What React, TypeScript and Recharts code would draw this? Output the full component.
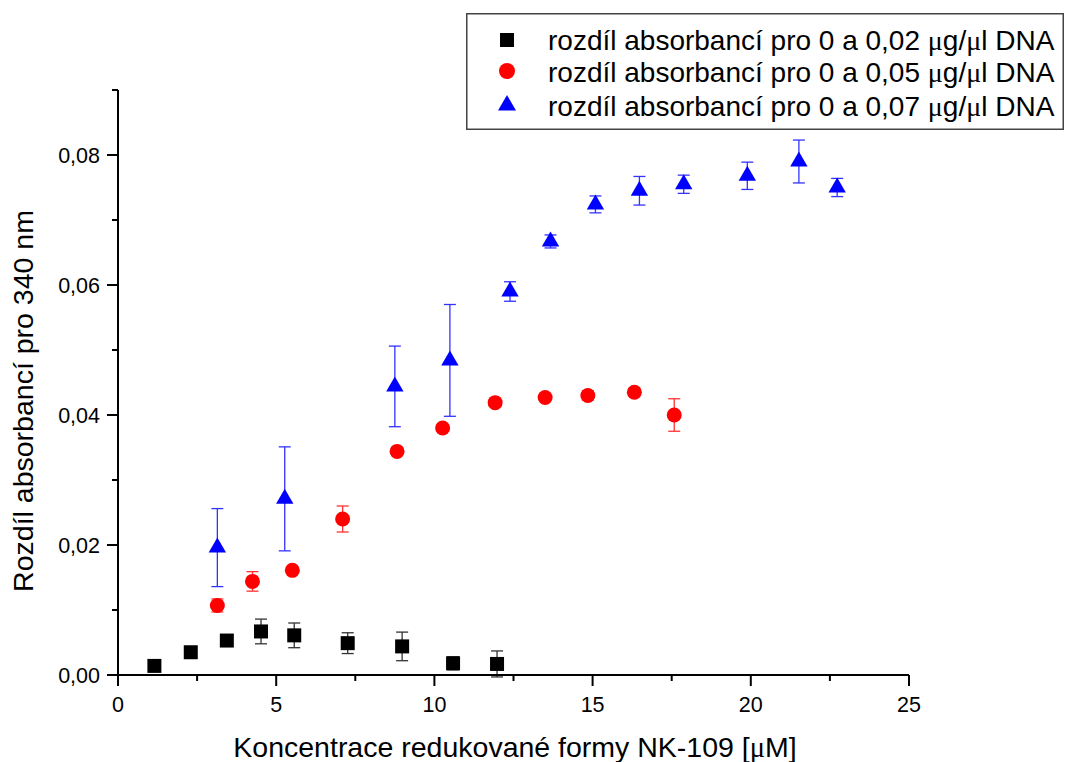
import React from 'react';
import { ScatterChart, Scatter, XAxis, YAxis, ErrorBar, Legend } from 'recharts';

const FONT = '"Liberation Sans", Arial, Helvetica, sans-serif';
const SERIF = '"Liberation Serif", "DejaVu Serif", serif';

// Series: difference in absorbance for 0 and 0.02 ug/ul DNA
const xBlack = [1.15, 2.3, 3.44, 4.52, 5.57, 7.26, 8.98, 10.59, 11.98];
const yBlack = [0.0014, 0.0035, 0.0053, 0.0067, 0.0061, 0.0049, 0.0044, 0.0018, 0.0017];
const eBlack = [0.0002, 0.0002, 0.0003, 0.0019, 0.0019, 0.0016, 0.0022, 0.001, 0.002];

// 0.05 ug/ul DNA
const xRed = [3.14, 4.25, 5.51, 7.1, 8.82, 10.26, 11.92, 13.5, 14.85, 16.32, 17.58];
const yRed = [0.0107, 0.0144, 0.0161, 0.024, 0.0344, 0.038, 0.0419, 0.0427, 0.043, 0.0435, 0.04];
const eRed = [0.001, 0.0015, 0.0004, 0.002, 0.0005, 0.0005, 0.0005, 0.0005, 0.0007, 0.0006, 0.0025];

// 0.07 ug/ul DNA
const xBlue = [3.14, 5.27, 8.75, 10.49, 12.39, 13.67, 15.09, 16.48, 17.88, 19.89, 21.52, 22.73];
const yBlue = [0.0196, 0.0271, 0.0444, 0.0484, 0.059, 0.0667, 0.0724, 0.0745, 0.0755, 0.0768, 0.079, 0.075];
const eBlue = [0.006, 0.008, 0.0062, 0.0086, 0.0015, 0.001, 0.0013, 0.0022, 0.0014, 0.0021, 0.0033, 0.0014];

const xTicks = [0, 2.5, 5, 7.5, 10, 12.5, 15, 17.5, 20, 22.5, 25];
const yTicks = [0, 0.01, 0.02, 0.03, 0.04, 0.05, 0.06, 0.07, 0.08, 0.09];

const legendNames = ['0,02', '0,05', '0,07'];

const build = (xs: number[], ys: number[], es: number[]) =>
  xs.map((x, i) => ({ x, y: ys[i], err: es[i] }));

const blackData = build(xBlack, yBlack, eBlack);
const redData = build(xRed, yRed, eRed);
const blueData = build(xBlue, yBlue, eBlue);

const SquareShape = (p: any) => (
  <rect x={p.cx - 7} y={p.cy - 7} width={14} height={14} fill="#000" />
);
const CircleShape = (p: any) => <circle cx={p.cx} cy={p.cy} r={7.5} fill="#ff0000" />;
const TriShape = (p: any) => (
  <path
    d={`M${p.cx},${p.cy - 10} L${p.cx + 8.7},${p.cy + 5} L${p.cx - 8.7},${p.cy + 5} Z`}
    fill="#0000ff"
  />
);

const XTick = (props: any) => {
  const { x, y, payload } = props;
  const v = payload.value;
  const major = Math.abs(v % 5) < 1e-9;
  return (
    <g>
      <line x1={x} y1={y} x2={x} y2={y + (major ? 11 : 6)} stroke="#000" strokeWidth={2} />
      {major && (
        <text x={x} y={y + 37} textAnchor="middle" fontSize={21.5} fontFamily={FONT} fill="#000">
          {v}
        </text>
      )}
    </g>
  );
};

const YTick = (props: any) => {
  const { x, y, payload } = props;
  const v = payload.value;
  const major = Math.round(v * 100) % 2 === 0;
  return (
    <g>
      <line x1={x} y1={y} x2={x - (major ? 11 : 6)} y2={y} stroke="#000" strokeWidth={2} />
      {major && (
        <text x={x - 18} y={y + 7.5} textAnchor="end" fontSize={21.5} fontFamily={FONT} fill="#000">
          {v.toFixed(2).replace('.', ',')}
        </text>
      )}
    </g>
  );
};

const LegendBox = () => {
  const rows = [
    { m: <rect x={34} y={20} width={14} height={14} fill="#000" /> },
    { m: <circle cx={41} cy={58} r={8} fill="#ff0000" /> },
    { m: <path d="M41,82 L50,97.5 L32,97.5 Z" fill="#0000ff" /> },
  ];
  const baselines = [37, 69, 103];
  return (
    <svg width={598} height={117} style={{ display: 'block' }}>
      <rect x={0.75} y={0.75} width={596.5} height={115.5} fill="#fff" stroke="#444" strokeWidth={1.5} />
      {rows.map((r, i) => (
        <g key={i}>
          {r.m}
          <text x={82} y={baselines[i]} fontSize={28} fontFamily={FONT} fill="#000">
            {`rozdíl absorbancí pro 0 a ${legendNames[i]} `}
            <tspan fontFamily={SERIF}>μ</tspan>
            {'g/'}
            <tspan fontFamily={SERIF}>μ</tspan>
            {'l DNA'}
          </text>
        </g>
      ))}
    </svg>
  );
};

export default function App() {
  return (
    <div style={{ position: 'absolute', left: 0, top: 0, background: '#fff' }}>
      <ScatterChart
        width={1065}
        height={762}
        margin={{ top: 90, right: 156, bottom: 0, left: 0 }}
      >
        <XAxis
          type="number"
          dataKey="x"
          domain={[0, 25]}
          ticks={xTicks}
          interval={0}
          height={87}
          tickSize={0}
          tickMargin={0}
          tickLine={false}
          axisLine={{ stroke: '#000', strokeWidth: 2 }}
          tick={<XTick />}
          label={{
            content: () => (
              <text x={515} y={757} textAnchor="middle" fontSize={28.5} fontFamily={FONT} fill="#000">
                {'Koncentrace redukované formy NK-109 ['}
                <tspan fontFamily={SERIF}>μ</tspan>
                {'M]'}
              </text>
            ),
          }}
        />
        <YAxis
          type="number"
          dataKey="y"
          domain={[0, 0.09]}
          ticks={yTicks}
          interval={0}
          width={118}
          tickSize={0}
          tickMargin={0}
          tickLine={false}
          allowDataOverflow
          axisLine={{ stroke: '#000', strokeWidth: 2 }}
          tick={<YTick />}
          label={{
            content: () => (
              <text
                x={33}
                y={401}
                transform="rotate(-90, 33, 401)"
                textAnchor="middle"
                fontSize={28.5}
                fontFamily={FONT}
                fill="#000"
              >
                Rozdíl absorbancí pro 340 nm
              </text>
            ),
          }}
        />
        <Legend
          layout="horizontal"
          verticalAlign="middle"
          align="center"
          wrapperStyle={{ position: 'absolute', left: 466, top: 13, width: 598, height: 117 }}
          content={() => <LegendBox />}
        />
        <Scatter name="0,02" data={blackData} shape={SquareShape} isAnimationActive={false}>
          <ErrorBar dataKey="err" direction="y" width={6} stroke="#333" strokeWidth={1.3} isAnimationActive={false} />
        </Scatter>
        <Scatter name="0,05" data={redData} shape={CircleShape} isAnimationActive={false}>
          <ErrorBar dataKey="err" direction="y" width={6} stroke="#ff3333" strokeWidth={1.3} isAnimationActive={false} />
        </Scatter>
        <Scatter name="0,07" data={blueData} shape={TriShape} isAnimationActive={false}>
          <ErrorBar dataKey="err" direction="y" width={6} stroke="#3333ff" strokeWidth={1.3} isAnimationActive={false} />
        </Scatter>
      </ScatterChart>
    </div>
  );
}
